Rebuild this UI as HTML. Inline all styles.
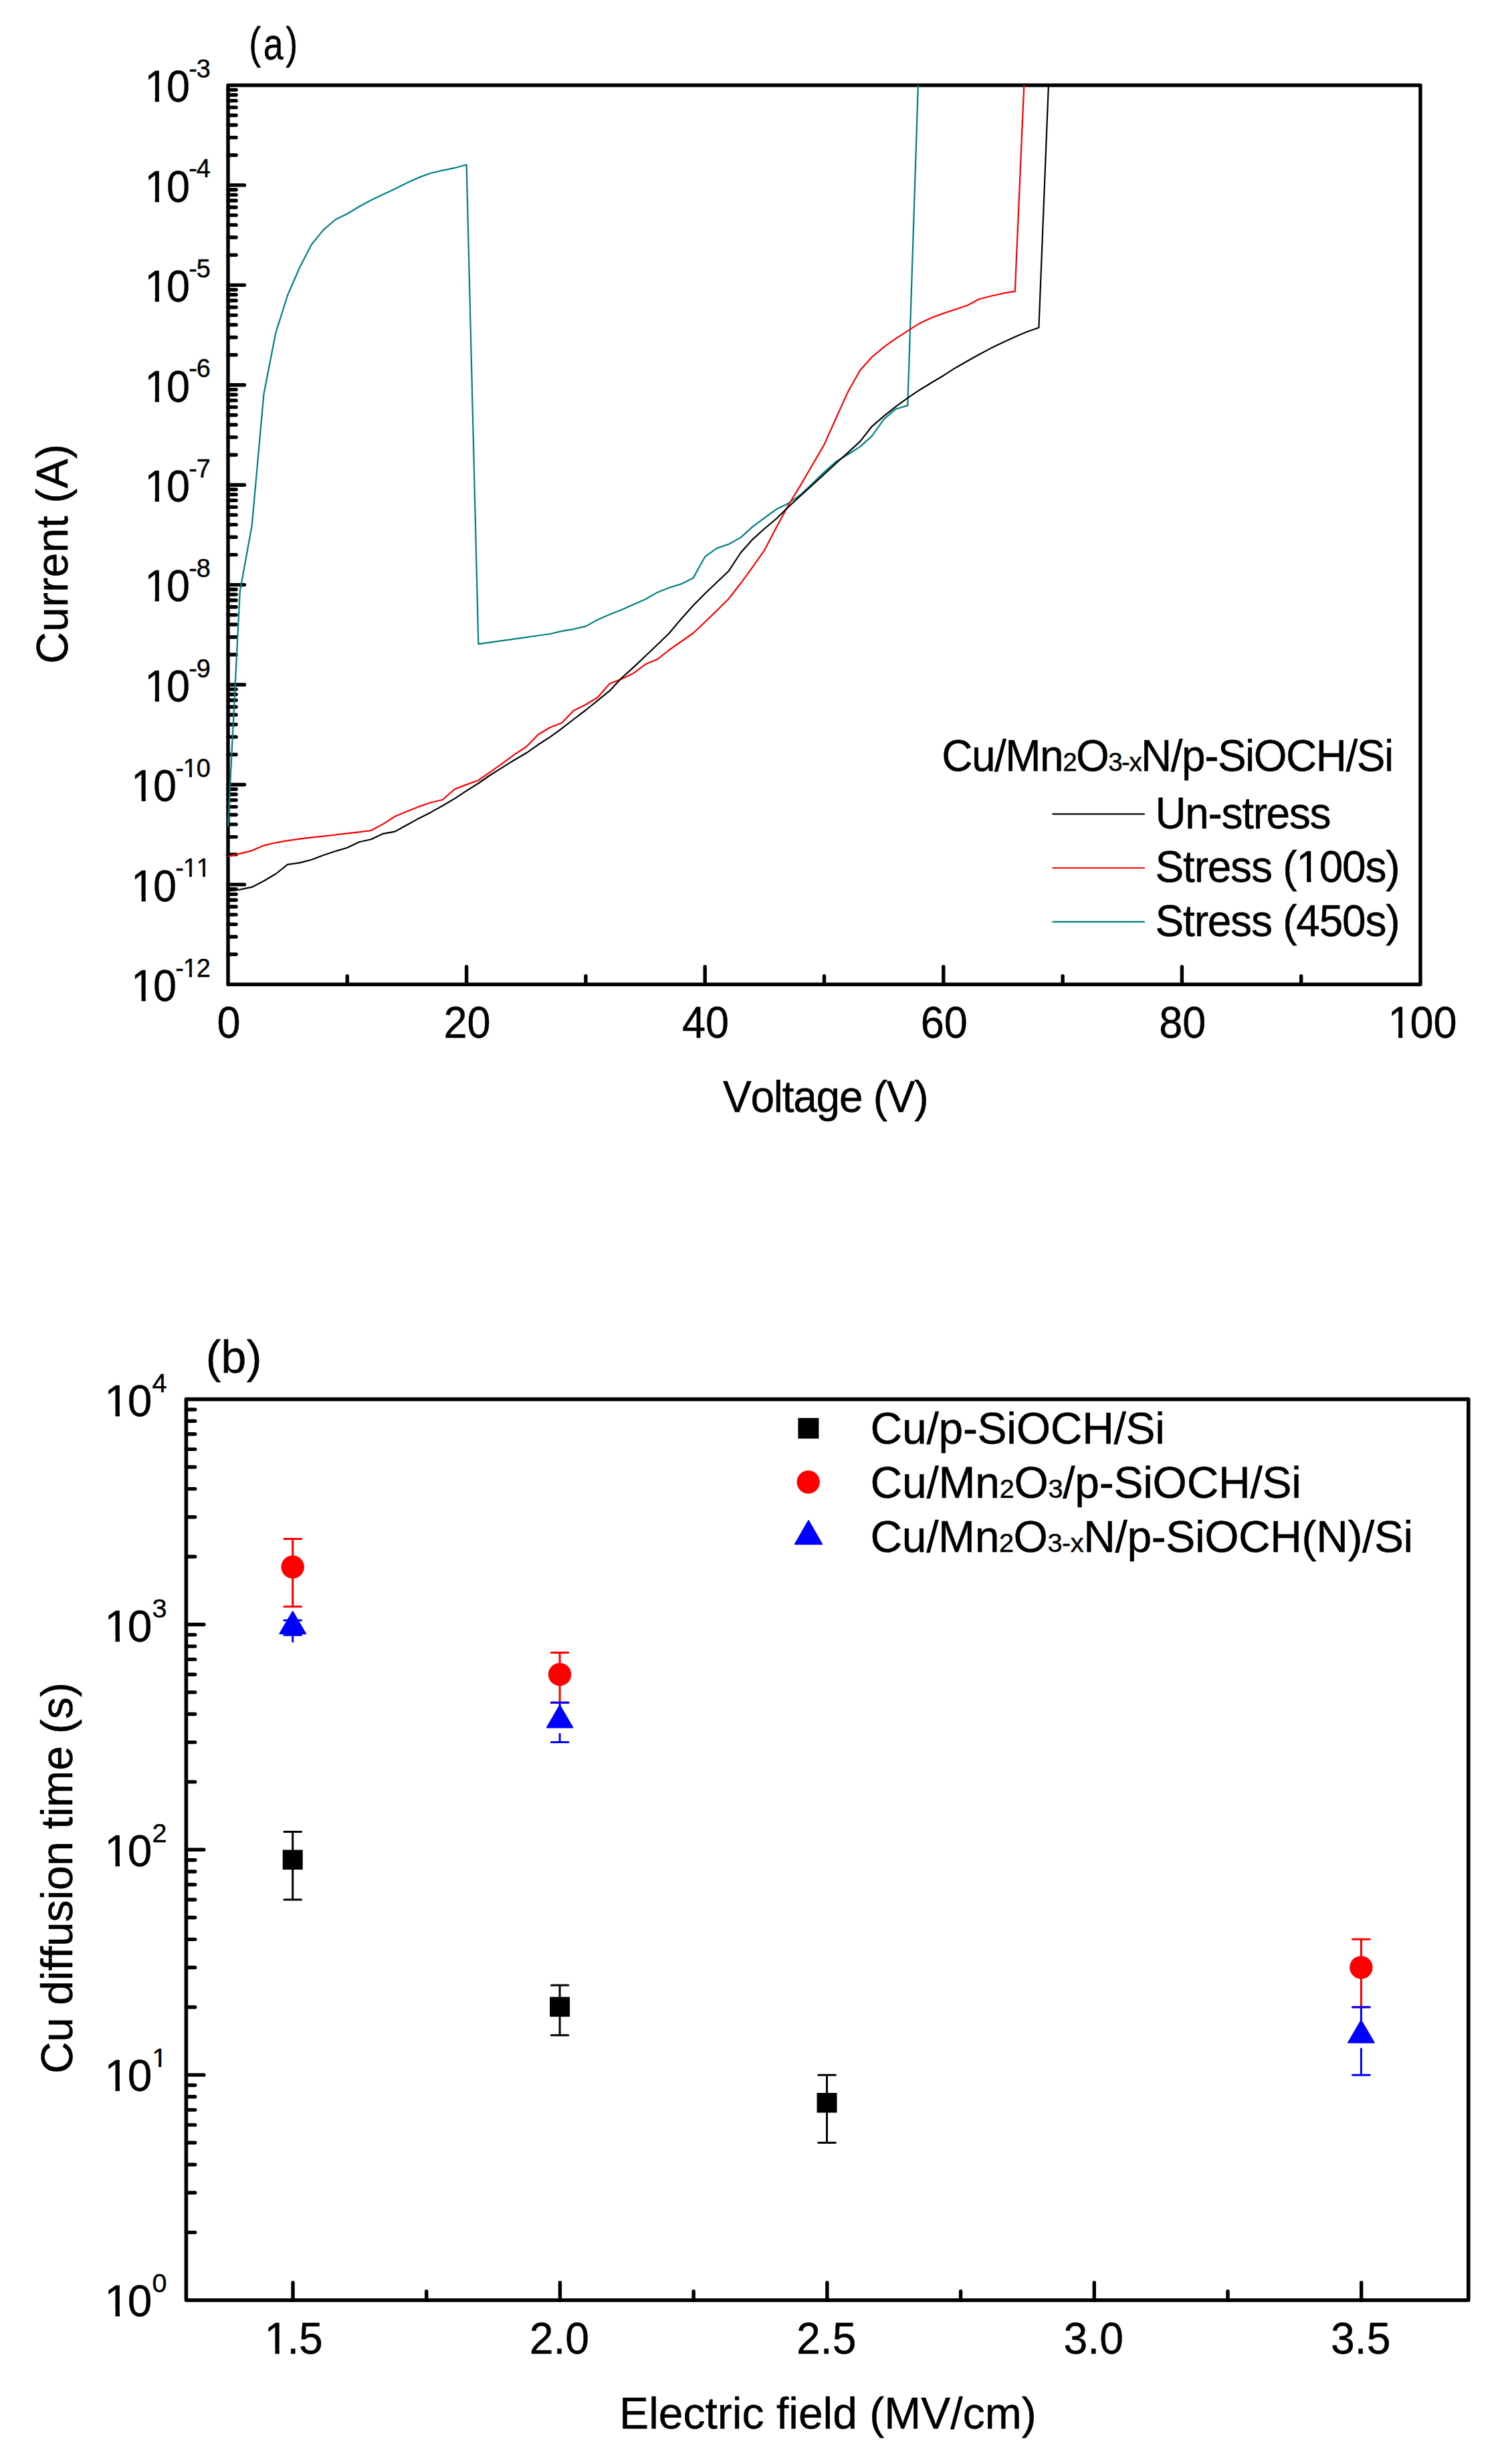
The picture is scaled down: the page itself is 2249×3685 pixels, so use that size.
<!DOCTYPE html>
<html lang="en"><head><meta charset="utf-8"><title>Figure</title>
<style>html,body{margin:0;padding:0;background:#fff}svg{display:block;font-family:"Liberation Sans",sans-serif}text{stroke:#000;stroke-width:.45px;stroke-linejoin:round;font-kerning:none}</style></head>
<body>
<svg width="2249" height="3685" viewBox="0 0 2249 3685" fill="#000">
<rect x="0" y="0" width="2249" height="3685" fill="#fff"/>
<g id="ticks-a" stroke="#000" stroke-width="5.4" stroke-linecap="round">
<line x1="341.0" y1="1427.32" x2="353.1" y2="1427.32"/>
<line x1="341.0" y1="1401.01" x2="353.1" y2="1401.01"/>
<line x1="341.0" y1="1382.34" x2="353.1" y2="1382.34"/>
<line x1="341.0" y1="1367.86" x2="353.1" y2="1367.86"/>
<line x1="341.0" y1="1356.03" x2="353.1" y2="1356.03"/>
<line x1="341.0" y1="1346.02" x2="353.1" y2="1346.02"/>
<line x1="341.0" y1="1337.36" x2="353.1" y2="1337.36"/>
<line x1="341.0" y1="1329.71" x2="353.1" y2="1329.71"/>
<line x1="341.0" y1="1322.88" x2="365.5" y2="1322.88"/>
<line x1="341.0" y1="1277.90" x2="353.1" y2="1277.90"/>
<line x1="341.0" y1="1251.59" x2="353.1" y2="1251.59"/>
<line x1="341.0" y1="1232.92" x2="353.1" y2="1232.92"/>
<line x1="341.0" y1="1218.44" x2="353.1" y2="1218.44"/>
<line x1="341.0" y1="1206.60" x2="353.1" y2="1206.60"/>
<line x1="341.0" y1="1196.60" x2="353.1" y2="1196.60"/>
<line x1="341.0" y1="1187.94" x2="353.1" y2="1187.94"/>
<line x1="341.0" y1="1180.29" x2="353.1" y2="1180.29"/>
<line x1="341.0" y1="1173.46" x2="365.5" y2="1173.46"/>
<line x1="341.0" y1="1128.47" x2="353.1" y2="1128.47"/>
<line x1="341.0" y1="1102.16" x2="353.1" y2="1102.16"/>
<line x1="341.0" y1="1083.49" x2="353.1" y2="1083.49"/>
<line x1="341.0" y1="1069.01" x2="353.1" y2="1069.01"/>
<line x1="341.0" y1="1057.18" x2="353.1" y2="1057.18"/>
<line x1="341.0" y1="1047.18" x2="353.1" y2="1047.18"/>
<line x1="341.0" y1="1038.51" x2="353.1" y2="1038.51"/>
<line x1="341.0" y1="1030.87" x2="353.1" y2="1030.87"/>
<line x1="341.0" y1="1024.03" x2="365.5" y2="1024.03"/>
<line x1="341.0" y1="979.05" x2="353.1" y2="979.05"/>
<line x1="341.0" y1="952.74" x2="353.1" y2="952.74"/>
<line x1="341.0" y1="934.07" x2="353.1" y2="934.07"/>
<line x1="341.0" y1="919.59" x2="353.1" y2="919.59"/>
<line x1="341.0" y1="907.76" x2="353.1" y2="907.76"/>
<line x1="341.0" y1="897.76" x2="353.1" y2="897.76"/>
<line x1="341.0" y1="889.09" x2="353.1" y2="889.09"/>
<line x1="341.0" y1="881.45" x2="353.1" y2="881.45"/>
<line x1="341.0" y1="874.61" x2="365.5" y2="874.61"/>
<line x1="341.0" y1="829.63" x2="353.1" y2="829.63"/>
<line x1="341.0" y1="803.32" x2="353.1" y2="803.32"/>
<line x1="341.0" y1="784.65" x2="353.1" y2="784.65"/>
<line x1="341.0" y1="770.17" x2="353.1" y2="770.17"/>
<line x1="341.0" y1="758.34" x2="353.1" y2="758.34"/>
<line x1="341.0" y1="748.33" x2="353.1" y2="748.33"/>
<line x1="341.0" y1="739.67" x2="353.1" y2="739.67"/>
<line x1="341.0" y1="732.03" x2="353.1" y2="732.03"/>
<line x1="341.0" y1="725.19" x2="365.5" y2="725.19"/>
<line x1="341.0" y1="680.21" x2="353.1" y2="680.21"/>
<line x1="341.0" y1="653.90" x2="353.1" y2="653.90"/>
<line x1="341.0" y1="635.23" x2="353.1" y2="635.23"/>
<line x1="341.0" y1="620.75" x2="353.1" y2="620.75"/>
<line x1="341.0" y1="608.92" x2="353.1" y2="608.92"/>
<line x1="341.0" y1="598.91" x2="353.1" y2="598.91"/>
<line x1="341.0" y1="590.25" x2="353.1" y2="590.25"/>
<line x1="341.0" y1="582.60" x2="353.1" y2="582.60"/>
<line x1="341.0" y1="575.77" x2="365.5" y2="575.77"/>
<line x1="341.0" y1="530.79" x2="353.1" y2="530.79"/>
<line x1="341.0" y1="504.47" x2="353.1" y2="504.47"/>
<line x1="341.0" y1="485.81" x2="353.1" y2="485.81"/>
<line x1="341.0" y1="471.33" x2="353.1" y2="471.33"/>
<line x1="341.0" y1="459.49" x2="353.1" y2="459.49"/>
<line x1="341.0" y1="449.49" x2="353.1" y2="449.49"/>
<line x1="341.0" y1="440.82" x2="353.1" y2="440.82"/>
<line x1="341.0" y1="433.18" x2="353.1" y2="433.18"/>
<line x1="341.0" y1="426.34" x2="365.5" y2="426.34"/>
<line x1="341.0" y1="381.36" x2="353.1" y2="381.36"/>
<line x1="341.0" y1="355.05" x2="353.1" y2="355.05"/>
<line x1="341.0" y1="336.38" x2="353.1" y2="336.38"/>
<line x1="341.0" y1="321.90" x2="353.1" y2="321.90"/>
<line x1="341.0" y1="310.07" x2="353.1" y2="310.07"/>
<line x1="341.0" y1="300.07" x2="353.1" y2="300.07"/>
<line x1="341.0" y1="291.40" x2="353.1" y2="291.40"/>
<line x1="341.0" y1="283.76" x2="353.1" y2="283.76"/>
<line x1="341.0" y1="276.92" x2="365.5" y2="276.92"/>
<line x1="341.0" y1="231.94" x2="353.1" y2="231.94"/>
<line x1="341.0" y1="205.63" x2="353.1" y2="205.63"/>
<line x1="341.0" y1="186.96" x2="353.1" y2="186.96"/>
<line x1="341.0" y1="172.48" x2="353.1" y2="172.48"/>
<line x1="341.0" y1="160.65" x2="353.1" y2="160.65"/>
<line x1="341.0" y1="150.65" x2="353.1" y2="150.65"/>
<line x1="341.0" y1="141.98" x2="353.1" y2="141.98"/>
<line x1="341.0" y1="134.34" x2="353.1" y2="134.34"/>
<line x1="519.30" y1="1472.3" x2="519.30" y2="1459.6"/>
<line x1="697.60" y1="1472.3" x2="697.60" y2="1445.8"/>
<line x1="875.90" y1="1472.3" x2="875.90" y2="1459.6"/>
<line x1="1054.20" y1="1472.3" x2="1054.20" y2="1445.8"/>
<line x1="1232.50" y1="1472.3" x2="1232.50" y2="1459.6"/>
<line x1="1410.80" y1="1472.3" x2="1410.80" y2="1445.8"/>
<line x1="1589.10" y1="1472.3" x2="1589.10" y2="1459.6"/>
<line x1="1767.40" y1="1472.3" x2="1767.40" y2="1445.8"/>
<line x1="1945.70" y1="1472.3" x2="1945.70" y2="1459.6"/>
</g>
<rect x="341.0" y="127.5" width="1783.0" height="1344.8" fill="none" stroke="#000" stroke-width="5.4" stroke-linejoin="round"/>
<g id="curves-a">
<polyline points="341.0,1236.0 358.8,884.4 376.7,786.0 394.5,589.2 412.3,497.9 430.1,441.5 448.0,400.3 465.8,365.7 483.6,343.9 501.5,328.5 519.3,319.7 537.1,309.0 555.0,299.2 572.8,290.7 590.6,282.4 608.5,273.4 626.3,265.4 644.1,259.0 661.9,254.8 679.8,251.2 697.6,246.3 715.4,963.2 733.3,960.7 751.1,958.2 768.9,955.6 786.8,953.1 804.6,950.5 822.4,948.0 840.2,943.9 858.1,940.8 875.9,936.6 893.7,926.7 911.6,919.1 929.4,912.0 947.2,903.9 965.0,896.2 982.9,885.9 1000.7,878.9 1018.5,873.4 1036.4,864.6 1054.2,832.7 1072.0,819.9 1089.9,813.8 1107.7,803.9 1125.5,787.6 1143.3,774.5 1161.2,761.4 1179.0,752.7 1196.8,740.2 1214.7,723.4 1232.5,706.1 1250.3,690.2 1268.2,679.5 1286.0,668.1 1303.8,652.1 1321.6,627.1 1339.5,611.7 1357.3,606.4 1372.9,127.5" fill="none" stroke="#008080" stroke-width="2.2" stroke-linejoin="round" stroke-linecap="butt"/>
<polyline points="341.0,1281.0 358.8,1276.6 376.7,1272.1 394.5,1264.4 412.3,1260.3 430.1,1257.1 448.0,1254.7 465.8,1252.4 483.6,1250.6 501.5,1248.5 519.3,1246.3 537.1,1244.4 555.0,1242.0 572.8,1232.4 590.6,1221.0 608.5,1213.6 626.3,1206.4 644.1,1200.3 661.9,1196.0 679.8,1180.3 697.6,1173.4 715.4,1167.0 733.3,1154.3 751.1,1141.8 768.9,1128.7 786.8,1117.0 804.6,1098.7 822.4,1088.0 840.2,1080.9 858.1,1062.6 875.9,1053.7 893.7,1043.0 911.6,1022.6 929.4,1015.4 947.2,1006.9 965.0,993.6 982.9,986.1 1000.7,972.0 1018.5,959.5 1036.4,947.0 1054.2,930.3 1072.0,913.0 1089.9,895.2 1107.7,872.3 1125.5,847.8 1143.3,822.6 1161.2,788.3 1179.0,755.3 1196.8,726.1 1214.7,695.5 1232.5,664.9 1250.3,625.0 1268.2,585.6 1286.0,554.0 1303.8,534.0 1321.6,519.2 1339.5,506.3 1357.3,494.8 1375.1,483.6 1393.0,475.2 1410.8,468.6 1428.6,462.7 1446.5,456.7 1464.3,447.3 1482.1,442.7 1499.9,438.7 1517.8,435.7 1531.3,127.5" fill="none" stroke="#ff0000" stroke-width="2.2" stroke-linejoin="round" stroke-linecap="butt"/>
<polyline points="341.0,1332.4 358.8,1330.3 376.7,1326.7 394.5,1317.5 412.3,1307.0 430.1,1292.8 448.0,1290.4 465.8,1285.7 483.6,1279.0 501.5,1273.0 519.3,1267.8 537.1,1259.3 555.0,1255.3 572.8,1246.8 590.6,1243.6 608.5,1233.8 626.3,1223.9 644.1,1214.9 661.9,1205.0 679.8,1194.4 697.6,1182.7 715.4,1171.5 733.3,1159.0 751.1,1147.9 768.9,1136.7 786.8,1126.3 804.6,1113.8 822.4,1102.4 840.2,1089.4 858.1,1075.5 875.9,1062.0 893.7,1047.7 911.6,1033.2 929.4,1014.0 947.2,998.1 965.0,981.3 982.9,964.3 1000.7,947.0 1018.5,925.7 1036.4,905.8 1054.2,887.7 1072.0,870.7 1089.9,853.7 1107.7,826.5 1125.5,806.6 1143.3,790.5 1161.2,775.5 1179.0,758.0 1196.8,741.8 1214.7,725.5 1232.5,709.3 1250.3,692.8 1268.2,676.6 1286.0,660.4 1303.8,637.8 1321.6,622.3 1339.5,608.2 1357.3,595.2 1375.1,583.2 1393.0,572.3 1410.8,561.7 1428.6,550.2 1446.5,540.0 1464.3,530.0 1482.1,520.6 1499.9,512.1 1517.8,503.7 1535.6,496.2 1553.4,490.0 1567.9,127.5" fill="none" stroke="#000000" stroke-width="2.2" stroke-linejoin="round" stroke-linecap="butt"/>
</g>
<g id="ylabels-a" font-size="66" text-anchor="end">
<text transform="translate(311.8 1497.1) scale(0.955 1)"><tspan dx="2.24">1</tspan><tspan dx="-2.24">0</tspan><tspan font-size="39.6" dy="-36.3" dx="-2" letter-spacing="-1">-12</tspan></text>
<text transform="translate(311.8 1347.7) scale(0.955 1)"><tspan dx="2.24">1</tspan><tspan dx="-2.24">0</tspan><tspan font-size="39.6" dy="-36.3" dx="-2" letter-spacing="-1">-11</tspan></text>
<text transform="translate(311.8 1198.3) scale(0.955 1)"><tspan dx="2.24">1</tspan><tspan dx="-2.24">0</tspan><tspan font-size="39.6" dy="-36.3" dx="-2" letter-spacing="-1">-10</tspan></text>
<text transform="translate(311.8 1048.8) scale(0.955 1)"><tspan dx="2.24">1</tspan><tspan dx="-2.24">0</tspan><tspan font-size="39.6" dy="-36.3" dx="-2" letter-spacing="-1">-9</tspan></text>
<text transform="translate(311.8 899.4) scale(0.955 1)"><tspan dx="2.24">1</tspan><tspan dx="-2.24">0</tspan><tspan font-size="39.6" dy="-36.3" dx="-2" letter-spacing="-1">-8</tspan></text>
<text transform="translate(311.8 750.0) scale(0.955 1)"><tspan dx="2.24">1</tspan><tspan dx="-2.24">0</tspan><tspan font-size="39.6" dy="-36.3" dx="-2" letter-spacing="-1">-7</tspan></text>
<text transform="translate(311.8 600.6) scale(0.955 1)"><tspan dx="2.24">1</tspan><tspan dx="-2.24">0</tspan><tspan font-size="39.6" dy="-36.3" dx="-2" letter-spacing="-1">-6</tspan></text>
<text transform="translate(311.8 451.1) scale(0.955 1)"><tspan dx="2.24">1</tspan><tspan dx="-2.24">0</tspan><tspan font-size="39.6" dy="-36.3" dx="-2" letter-spacing="-1">-5</tspan></text>
<text transform="translate(311.8 301.7) scale(0.955 1)"><tspan dx="2.24">1</tspan><tspan dx="-2.24">0</tspan><tspan font-size="39.6" dy="-36.3" dx="-2" letter-spacing="-1">-4</tspan></text>
<text transform="translate(311.8 152.3) scale(0.955 1)"><tspan dx="2.24">1</tspan><tspan dx="-2.24">0</tspan><tspan font-size="39.6" dy="-36.3" dx="-2" letter-spacing="-1">-3</tspan></text>
</g>
<g id="xlabels-a" font-size="66" text-anchor="middle">
<text transform="translate(341.9 1551.8) scale(0.955 1)">0</text>
<text transform="translate(698.5 1551.8) scale(0.955 1)">20</text>
<text transform="translate(1055.1 1551.8) scale(0.955 1)">40</text>
<text transform="translate(1411.7 1551.8) scale(0.955 1)">60</text>
<text transform="translate(1768.3 1551.8) scale(0.955 1)">80</text>
<text transform="translate(2124.9 1551.8) scale(0.955 1)"><tspan dx="2.24">1</tspan><tspan dx="-2.24">0</tspan>0</text>
</g>
<text transform="translate(1081.00 1663.1) scale(0.97 1)" font-size="66" textLength="317.11" lengthAdjust="spacing">Voltage (V)</text>
<text transform="translate(100.8 828.40) rotate(-90)" font-size="66" text-anchor="middle" textLength="328.60" lengthAdjust="spacing">Current (A)</text>
<text transform="translate(372.20 86.6) scale(0.8 1)" font-size="67.2" textLength="91.25" lengthAdjust="spacing" stroke="#000" stroke-width="1.3" stroke-linejoin="round">(<tspan dy="2.2">a</tspan><tspan dy="-2.2">)</tspan></text>
<text transform="translate(1408.20 1152.8) scale(0.97 1)" font-size="66" textLength="696.91" lengthAdjust="spacing">Cu/Mn<tspan font-size="39.6">2</tspan>O<tspan font-size="39.6">3-x</tspan>N/p-SiOCH/Si</text>
<line x1="1573.5" y1="1217.3" x2="1711.8" y2="1217.3" stroke="#000" stroke-width="2.2"/>
<text transform="translate(1727.50 1239.3) scale(0.97 1)" font-size="66" textLength="271.13" lengthAdjust="spacing">Un-stress</text>
<line x1="1573.5" y1="1298.0" x2="1711.8" y2="1298.0" stroke="#ff0000" stroke-width="2.2"/>
<text transform="translate(1727.60 1319.3) scale(0.97 1)" font-size="66" textLength="377.32" lengthAdjust="spacing">Stress (100s)</text>
<line x1="1573.5" y1="1378.7" x2="1711.8" y2="1378.7" stroke="#008080" stroke-width="2.2"/>
<text transform="translate(1727.60 1399.5) scale(0.97 1)" font-size="66" textLength="377.32" lengthAdjust="spacing">Stress (450s)</text>
<g id="ticks-b" stroke="#000" stroke-width="5.4" stroke-linecap="round">
<line x1="278.4" y1="3338.60" x2="291.7" y2="3338.60"/>
<line x1="278.4" y1="3279.28" x2="291.7" y2="3279.28"/>
<line x1="278.4" y1="3237.20" x2="291.7" y2="3237.20"/>
<line x1="278.4" y1="3204.55" x2="291.7" y2="3204.55"/>
<line x1="278.4" y1="3177.88" x2="291.7" y2="3177.88"/>
<line x1="278.4" y1="3155.33" x2="291.7" y2="3155.33"/>
<line x1="278.4" y1="3135.79" x2="291.7" y2="3135.79"/>
<line x1="278.4" y1="3118.56" x2="291.7" y2="3118.56"/>
<line x1="278.4" y1="3103.15" x2="304.79999999999995" y2="3103.15"/>
<line x1="278.4" y1="3001.75" x2="291.7" y2="3001.75"/>
<line x1="278.4" y1="2942.43" x2="291.7" y2="2942.43"/>
<line x1="278.4" y1="2900.35" x2="291.7" y2="2900.35"/>
<line x1="278.4" y1="2867.70" x2="291.7" y2="2867.70"/>
<line x1="278.4" y1="2841.03" x2="291.7" y2="2841.03"/>
<line x1="278.4" y1="2818.48" x2="291.7" y2="2818.48"/>
<line x1="278.4" y1="2798.94" x2="291.7" y2="2798.94"/>
<line x1="278.4" y1="2781.71" x2="291.7" y2="2781.71"/>
<line x1="278.4" y1="2766.30" x2="304.79999999999995" y2="2766.30"/>
<line x1="278.4" y1="2664.90" x2="291.7" y2="2664.90"/>
<line x1="278.4" y1="2605.58" x2="291.7" y2="2605.58"/>
<line x1="278.4" y1="2563.50" x2="291.7" y2="2563.50"/>
<line x1="278.4" y1="2530.85" x2="291.7" y2="2530.85"/>
<line x1="278.4" y1="2504.18" x2="291.7" y2="2504.18"/>
<line x1="278.4" y1="2481.63" x2="291.7" y2="2481.63"/>
<line x1="278.4" y1="2462.09" x2="291.7" y2="2462.09"/>
<line x1="278.4" y1="2444.86" x2="291.7" y2="2444.86"/>
<line x1="278.4" y1="2429.45" x2="304.79999999999995" y2="2429.45"/>
<line x1="278.4" y1="2328.05" x2="291.7" y2="2328.05"/>
<line x1="278.4" y1="2268.73" x2="291.7" y2="2268.73"/>
<line x1="278.4" y1="2226.65" x2="291.7" y2="2226.65"/>
<line x1="278.4" y1="2194.00" x2="291.7" y2="2194.00"/>
<line x1="278.4" y1="2167.33" x2="291.7" y2="2167.33"/>
<line x1="278.4" y1="2144.78" x2="291.7" y2="2144.78"/>
<line x1="278.4" y1="2125.24" x2="291.7" y2="2125.24"/>
<line x1="278.4" y1="2108.01" x2="291.7" y2="2108.01"/>
<line x1="438.00" y1="3440.0" x2="438.00" y2="3413.6"/>
<line x1="637.71" y1="3440.0" x2="637.71" y2="3426.7"/>
<line x1="837.42" y1="3440.0" x2="837.42" y2="3413.6"/>
<line x1="1037.14" y1="3440.0" x2="1037.14" y2="3426.7"/>
<line x1="1236.85" y1="3440.0" x2="1236.85" y2="3413.6"/>
<line x1="1436.56" y1="3440.0" x2="1436.56" y2="3426.7"/>
<line x1="1636.28" y1="3440.0" x2="1636.28" y2="3413.6"/>
<line x1="1835.99" y1="3440.0" x2="1835.99" y2="3426.7"/>
<line x1="2035.70" y1="3440.0" x2="2035.70" y2="3413.6"/>
</g>
<rect x="278.4" y="2092.6" width="1917.4" height="1347.4" fill="none" stroke="#000" stroke-width="5.6000000000000005" stroke-linejoin="round"/>
<g id="ylabels-b" font-size="66" text-anchor="end">
<text x="247.2" y="3463.6"><tspan dx="2.24">1</tspan><tspan dx="-2.24">0</tspan><tspan font-size="39.6" dy="-36">0</tspan></text>
<text x="247.2" y="3127.3"><tspan dx="2.24">1</tspan><tspan dx="-2.24">0</tspan><tspan font-size="39.6" dy="-36">1</tspan></text>
<text x="247.2" y="2790.9"><tspan dx="2.24">1</tspan><tspan dx="-2.24">0</tspan><tspan font-size="39.6" dy="-36">2</tspan></text>
<text x="247.2" y="2454.6"><tspan dx="2.24">1</tspan><tspan dx="-2.24">0</tspan><tspan font-size="39.6" dy="-36">3</tspan></text>
<text x="247.2" y="2118.3"><tspan dx="2.24">1</tspan><tspan dx="-2.24">0</tspan><tspan font-size="39.6" dy="-36">4</tspan></text>
</g>
<g id="xlabels-b" font-size="66" text-anchor="middle">
<text transform="translate(437.0 3520) scale(0.975 1)"><tspan dx="2.24">1</tspan><tspan dx="-2.24">.</tspan>5</text>
<text transform="translate(836.4 3520) scale(0.975 1)">2.0</text>
<text transform="translate(1235.8 3520) scale(0.975 1)">2.5</text>
<text transform="translate(1635.3 3520) scale(0.975 1)">3.0</text>
<text transform="translate(2034.7 3520) scale(0.975 1)">3.5</text>
</g>
<text transform="translate(926.10 3631.9) scale(1 1)" font-size="66" textLength="623.60" lengthAdjust="spacing">Electric field (MV/cm)</text>
<text transform="translate(108 2808.70) rotate(-90)" font-size="66" text-anchor="middle" textLength="585.20" lengthAdjust="spacing">Cu diffusion time (s)</text>
<text transform="translate(307.70 2053.1) scale(1 1)" font-size="68" textLength="83.60" lengthAdjust="spacing">(b)</text>
<g stroke="#000" stroke-width="3.0" stroke-linecap="round">
<line x1="437.7" y1="2739.6" x2="437.7" y2="2841.0"/>
<line x1="424.9" y1="2739.6" x2="450.5" y2="2739.6"/>
<line x1="424.9" y1="2841.0" x2="450.5" y2="2841.0"/>
</g>
<rect x="422.7" y="2766.5" width="30" height="29.6" fill="#000"/>
<g stroke="#000" stroke-width="3.0" stroke-linecap="round">
<line x1="837.1" y1="2969.1" x2="837.1" y2="3043.8"/>
<line x1="824.3" y1="2969.1" x2="849.9" y2="2969.1"/>
<line x1="824.3" y1="3043.8" x2="849.9" y2="3043.8"/>
</g>
<rect x="822.1" y="2986.5" width="30" height="29.6" fill="#000"/>
<g stroke="#000" stroke-width="3.0" stroke-linecap="round">
<line x1="1236.5" y1="3103.2" x2="1236.5" y2="3204.6"/>
<line x1="1223.8" y1="3103.2" x2="1249.3" y2="3103.2"/>
<line x1="1223.8" y1="3204.6" x2="1249.3" y2="3204.6"/>
</g>
<rect x="1221.5" y="3130.0" width="30" height="29.6" fill="#000"/>
<g stroke="#ff0000" stroke-width="3.0" stroke-linecap="round">
<line x1="437.7" y1="2301.4" x2="437.7" y2="2402.8"/>
<line x1="424.9" y1="2301.4" x2="450.5" y2="2301.4"/>
<line x1="424.9" y1="2402.8" x2="450.5" y2="2402.8"/>
</g>
<circle cx="437.7" cy="2343.5" r="17.2" fill="#ff0000"/>
<g stroke="#ff0000" stroke-width="3.0" stroke-linecap="round">
<line x1="837.1" y1="2471.5" x2="837.1" y2="2546.3"/>
<line x1="824.3" y1="2471.5" x2="849.9" y2="2471.5"/>
<line x1="824.3" y1="2546.3" x2="849.9" y2="2546.3"/>
</g>
<circle cx="837.1" cy="2504.2" r="17.2" fill="#ff0000"/>
<g stroke="#ff0000" stroke-width="3.0" stroke-linecap="round">
<line x1="2035.4" y1="2900.3" x2="2035.4" y2="3001.7"/>
<line x1="2022.6" y1="2900.3" x2="2048.2" y2="2900.3"/>
<line x1="2022.6" y1="3001.7" x2="2048.2" y2="3001.7"/>
</g>
<circle cx="2035.4" cy="2942.4" r="17.2" fill="#ff0000"/>
<g stroke="#0000ff" stroke-width="3.0" stroke-linecap="round">
<line x1="437.7" y1="2423.2" x2="437.7" y2="2455.0"/>
<line x1="424.9" y1="2423.2" x2="450.5" y2="2423.2"/>
</g>
<line x1="424.9" y1="2445.3" x2="450.5" y2="2445.3" stroke="#0000ff" stroke-width="3.0" stroke-linecap="round"/>
<polygon points="437.7,2409.8 418.1,2443.4 457.3,2443.4" fill="#0000ff" stroke="#0000ff" stroke-width="1.6" stroke-linejoin="round"/>
<g stroke="#0000ff" stroke-width="3.0" stroke-linecap="round">
<line x1="837.1" y1="2546.3" x2="837.1" y2="2552.0"/>
<line x1="824.3" y1="2546.3" x2="849.9" y2="2546.3"/>
</g>
<g stroke="#0000ff" stroke-width="3.0" stroke-linecap="round">
<line x1="837.1" y1="2593.2" x2="837.1" y2="2605.6"/>
<line x1="824.3" y1="2605.6" x2="849.9" y2="2605.6"/>
</g>
<polygon points="837.1,2550.2 817.5,2583.8 856.7,2583.8" fill="#0000ff" stroke="#0000ff" stroke-width="1.6" stroke-linejoin="round"/>
<g stroke="#0000ff" stroke-width="3.0" stroke-linecap="round">
<line x1="2035.4" y1="3001.7" x2="2035.4" y2="3024.0"/>
<line x1="2022.6" y1="3001.7" x2="2048.2" y2="3001.7"/>
</g>
<g stroke="#0000ff" stroke-width="3.0" stroke-linecap="round">
<line x1="2035.4" y1="3064.1" x2="2035.4" y2="3103.2"/>
<line x1="2022.6" y1="3103.2" x2="2048.2" y2="3103.2"/>
</g>
<polygon points="2035.4,3021.4 2015.8,3055.0 2055.0,3055.0" fill="#0000ff" stroke="#0000ff" stroke-width="1.6" stroke-linejoin="round"/>
<rect x="1193.4" y="2120.7" width="31" height="30.8" fill="#000"/>
<circle cx="1208.7" cy="2216.5" r="17.2" fill="#ff0000"/>
<polygon points="1209,2274 1188.6,2309.4 1229.4,2309.4" fill="#0000ff" stroke="#0000ff" stroke-width="1.6" stroke-linejoin="round"/>
<text transform="translate(1301.60 2158.8) scale(1 1)" font-size="66" textLength="440.40" lengthAdjust="spacing">Cu/p-SiOCH/Si</text>
<text transform="translate(1301.60 2239.8) scale(1 1)" font-size="66" textLength="644.40" lengthAdjust="spacing">Cu/Mn<tspan font-size="39.6">2</tspan>O<tspan font-size="39.6">3</tspan>/p-SiOCH/Si</text>
<text transform="translate(1301.60 2320.9) scale(1 1)" font-size="66" textLength="811.60" lengthAdjust="spacing">Cu/Mn<tspan font-size="39.6">2</tspan>O<tspan font-size="39.6">3-x</tspan>N/p-SiOCH(N)/Si</text>
<g id="m" fill="#fff">
<rect x="198.40" y="1489.57" width="13.22" height="9.53"/><rect x="217.84" y="1489.57" width="12.73" height="9.53"/>
<rect x="274.17" y="1455.24" width="8.80" height="7.56"/><rect x="286.97" y="1455.24" width="8.50" height="7.56"/>
<rect x="198.40" y="1340.17" width="13.22" height="9.53"/><rect x="217.84" y="1340.17" width="12.73" height="9.53"/>
<rect x="274.17" y="1305.84" width="8.80" height="7.56"/><rect x="286.97" y="1305.84" width="8.50" height="7.56"/>
<rect x="294.24" y="1305.84" width="8.80" height="7.56"/><rect x="307.04" y="1305.84" width="8.50" height="7.56"/>
<rect x="198.40" y="1190.77" width="13.22" height="9.53"/><rect x="217.84" y="1190.77" width="12.73" height="9.53"/>
<rect x="274.17" y="1156.44" width="8.80" height="7.56"/><rect x="286.97" y="1156.44" width="8.50" height="7.56"/>
<rect x="218.47" y="1041.27" width="13.22" height="9.53"/><rect x="237.91" y="1041.27" width="12.73" height="9.53"/>
<rect x="218.47" y="891.87" width="13.22" height="9.53"/><rect x="237.91" y="891.87" width="12.73" height="9.53"/>
<rect x="218.47" y="742.47" width="13.22" height="9.53"/><rect x="237.91" y="742.47" width="12.73" height="9.53"/>
<rect x="218.47" y="593.07" width="13.22" height="9.53"/><rect x="237.91" y="593.07" width="12.73" height="9.53"/>
<rect x="218.47" y="443.57" width="13.22" height="9.53"/><rect x="237.91" y="443.57" width="12.73" height="9.53"/>
<rect x="218.47" y="294.17" width="13.22" height="9.53"/><rect x="237.91" y="294.17" width="12.73" height="9.53"/>
<rect x="218.47" y="144.77" width="13.22" height="9.53"/><rect x="237.91" y="144.77" width="12.73" height="9.53"/>
<rect x="2077.83" y="1544.27" width="13.22" height="9.53"/><rect x="2097.27" y="1544.27" width="12.73" height="9.53"/>
<rect x="1940.73" y="1311.77" width="13.39" height="9.53"/><rect x="1960.44" y="1311.77" width="12.89" height="9.53"/>
<rect x="158.76" y="3456.07" width="13.74" height="9.53"/><rect x="178.98" y="3456.07" width="13.22" height="9.53"/>
<rect x="158.76" y="3119.77" width="13.74" height="9.53"/><rect x="178.98" y="3119.77" width="13.22" height="9.53"/>
<rect x="227.94" y="3085.74" width="9.11" height="7.56"/><rect x="241.21" y="3085.74" width="8.80" height="7.56"/>
<rect x="158.76" y="2783.37" width="13.74" height="9.53"/><rect x="178.98" y="2783.37" width="13.22" height="9.53"/>
<rect x="158.76" y="2447.07" width="13.74" height="9.53"/><rect x="178.98" y="2447.07" width="13.22" height="9.53"/>
<rect x="158.76" y="2110.77" width="13.74" height="9.53"/><rect x="178.98" y="2110.77" width="13.22" height="9.53"/>
<rect x="397.95" y="3512.47" width="13.45" height="9.53"/><rect x="417.74" y="3512.47" width="12.95" height="9.53"/>
</g>
</svg>
</body></html>
